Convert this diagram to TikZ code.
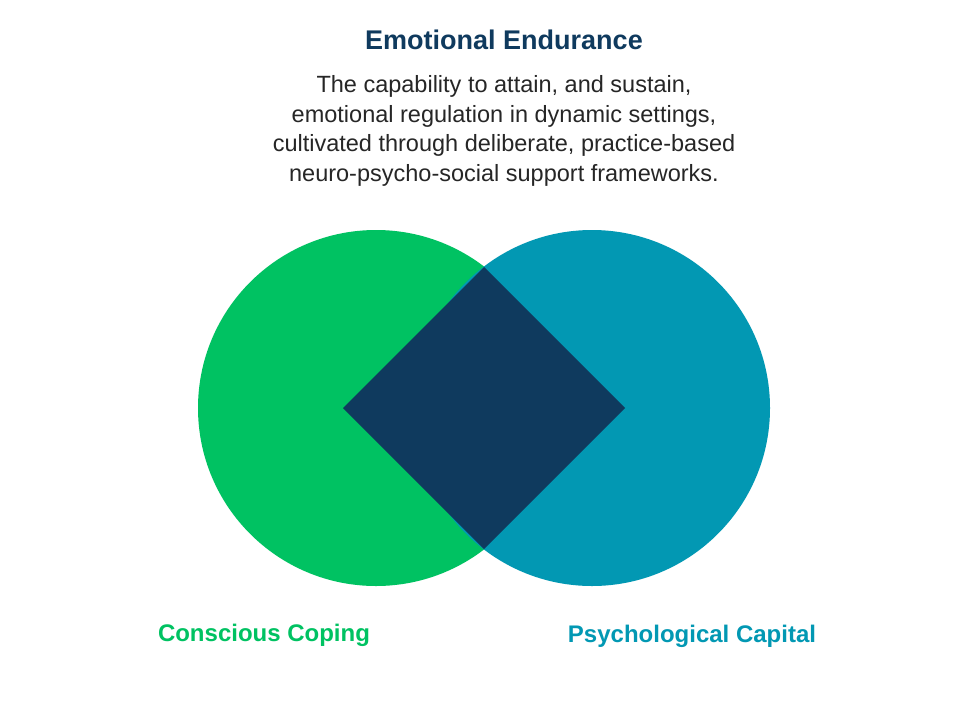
\documentclass[tikz,border=0pt]{standalone}
\usepackage{fontspec}
\setmainfont{Liberation Sans}
\definecolor{copegreen}{HTML}{00C262}
\definecolor{capteal}{HTML}{0298B3}
\definecolor{navy}{HTML}{0F3A5E}
\tikzset{label text/.style={font=\fontsize{24}{28}\selectfont\bfseries}}
\begin{document}
\begin{tikzpicture}[x=1pt,y=-1pt]
	\useasboundingbox (0,0) rectangle (960,720);
	\fill[white] (0,0) rectangle (960,720);

	\node[text=navy,font=\fontsize{27}{30}\selectfont\bfseries] (title) at (504,40) {Emotional Endurance};
	\node[align=center,font=\fontsize{23.5}{29.6}\selectfont,text=black!85] (def) at (504,131)
		{The capability to attain, and sustain,\\emotional regulation in dynamic settings,\\cultivated through deliberate, practice-based\\neuro-psycho-social support frameworks.};

	\fill[copegreen] (376,408) circle (178);
	\fill[capteal] (592,408) circle (178);
	\fill[navy] (343,408) -- (484,267) -- (625,408) -- (484,549) -- cycle;

	\node[label text,text=copegreen] (coping) at (264,635) {Conscious Coping};
	\node[label text,text=capteal] (capital) at (692,636) {Psychological Capital};
\end{tikzpicture}
\end{document}
